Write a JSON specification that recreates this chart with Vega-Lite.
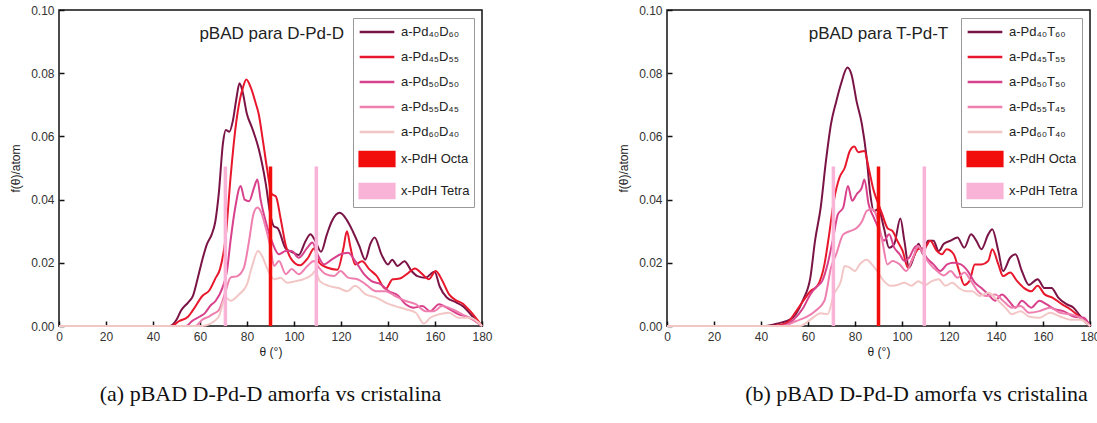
{
"$schema":"https://vega.github.io/schema/vega-lite/v6.json",
"padding":{"left":8,"top":3,"right":0,"bottom":0},
"background":"white",
"config":{"view":{"stroke":"#111","strokeWidth":1.5},
"axis":{"labelFont":"Liberation Sans","labelFontSize":12,"labelColor":"#333","titleFont":"Liberation Sans","titleFontSize":12,"titleFontWeight":"normal","titleColor":"#222","grid":false,"domain":false,"tickColor":"#111","tickWidth":1.5}},
"datasets":{
"xpdh":[{"series":"x-PdH Tetra","theta":70.8,"f":0.0505},{"series":"x-PdH Octa","theta":90,"f":0.0505},{"series":"x-PdH Tetra","theta":109.5,"f":0.0505}],
"dpd":[
{"series":"a-Pd₄₀D₆₀","theta":0,"f":0},{"series":"a-Pd₄₀D₆₀","theta":47,"f":0},{"series":"a-Pd₄₀D₆₀","theta":50,"f":0.002},{"series":"a-Pd₄₀D₆₀","theta":52,"f":0.005},{"series":"a-Pd₄₀D₆₀","theta":55,"f":0.0075},{"series":"a-Pd₄₀D₆₀","theta":57,"f":0.0095},{"series":"a-Pd₄₀D₆₀","theta":59,"f":0.015},{"series":"a-Pd₄₀D₆₀","theta":61,"f":0.021},{"series":"a-Pd₄₀D₆₀","theta":63,"f":0.026},{"series":"a-Pd₄₀D₆₀","theta":65,"f":0.029},{"series":"a-Pd₄₀D₆₀","theta":66.5,"f":0.033},{"series":"a-Pd₄₀D₆₀","theta":68,"f":0.042},{"series":"a-Pd₄₀D₆₀","theta":69.8,"f":0.058},{"series":"a-Pd₄₀D₆₀","theta":71,"f":0.062},{"series":"a-Pd₄₀D₆₀","theta":72.5,"f":0.0615},{"series":"a-Pd₄₀D₆₀","theta":74,"f":0.065},{"series":"a-Pd₄₀D₆₀","theta":75.5,"f":0.072},{"series":"a-Pd₄₀D₆₀","theta":76.8,"f":0.0768},{"series":"a-Pd₄₀D₆₀","theta":78,"f":0.0745},{"series":"a-Pd₄₀D₆₀","theta":80,"f":0.067},{"series":"a-Pd₄₀D₆₀","theta":82,"f":0.063},{"series":"a-Pd₄₀D₆₀","theta":85,"f":0.056},{"series":"a-Pd₄₀D₆₀","theta":88,"f":0.045},{"series":"a-Pd₄₀D₆₀","theta":90,"f":0.035},{"series":"a-Pd₄₀D₆₀","theta":91.5,"f":0.0315},{"series":"a-Pd₄₀D₆₀","theta":93,"f":0.031},{"series":"a-Pd₄₀D₆₀","theta":96.5,"f":0.0245},{"series":"a-Pd₄₀D₆₀","theta":99,"f":0.0235},{"series":"a-Pd₄₀D₆₀","theta":102,"f":0.0225},{"series":"a-Pd₄₀D₆₀","theta":105,"f":0.027},{"series":"a-Pd₄₀D₆₀","theta":107,"f":0.029},{"series":"a-Pd₄₀D₆₀","theta":109,"f":0.027},{"series":"a-Pd₄₀D₆₀","theta":111.5,"f":0.0235},{"series":"a-Pd₄₀D₆₀","theta":114,"f":0.029},{"series":"a-Pd₄₀D₆₀","theta":116,"f":0.033},{"series":"a-Pd₄₀D₆₀","theta":119.5,"f":0.0358},{"series":"a-Pd₄₀D₆₀","theta":122.5,"f":0.0335},{"series":"a-Pd₄₀D₆₀","theta":125,"f":0.03},{"series":"a-Pd₄₀D₆₀","theta":127.7,"f":0.0255},{"series":"a-Pd₄₀D₆₀","theta":130.3,"f":0.021},{"series":"a-Pd₄₀D₆₀","theta":132.5,"f":0.026},{"series":"a-Pd₄₀D₆₀","theta":134.3,"f":0.028},{"series":"a-Pd₄₀D₆₀","theta":137.3,"f":0.0225},{"series":"a-Pd₄₀D₆₀","theta":140,"f":0.0195},{"series":"a-Pd₄₀D₆₀","theta":141.8,"f":0.021},{"series":"a-Pd₄₀D₆₀","theta":144,"f":0.019},{"series":"a-Pd₄₀D₆₀","theta":147,"f":0.0205},{"series":"a-Pd₄₀D₆₀","theta":150,"f":0.0174},{"series":"a-Pd₄₀D₆₀","theta":152.5,"f":0.0158},{"series":"a-Pd₄₀D₆₀","theta":156,"f":0.0153},{"series":"a-Pd₄₀D₆₀","theta":159.8,"f":0.0172},{"series":"a-Pd₄₀D₆₀","theta":162,"f":0.0125},{"series":"a-Pd₄₀D₆₀","theta":165,"f":0.009},{"series":"a-Pd₄₀D₆₀","theta":169,"f":0.0075},{"series":"a-Pd₄₀D₆₀","theta":172,"f":0.0062},{"series":"a-Pd₄₀D₆₀","theta":176,"f":0.003},{"series":"a-Pd₄₀D₆₀","theta":180,"f":0},
{"series":"a-Pd₄₅D₅₅","theta":0,"f":0},{"series":"a-Pd₄₅D₅₅","theta":48,"f":0},{"series":"a-Pd₄₅D₅₅","theta":51,"f":0.0015},{"series":"a-Pd₄₅D₅₅","theta":55,"f":0.003},{"series":"a-Pd₄₅D₅₅","theta":57,"f":0.005},{"series":"a-Pd₄₅D₅₅","theta":61,"f":0.0095},{"series":"a-Pd₄₅D₅₅","theta":64,"f":0.0113},{"series":"a-Pd₄₅D₅₅","theta":66.5,"f":0.015},{"series":"a-Pd₄₅D₅₅","theta":68.5,"f":0.018},{"series":"a-Pd₄₅D₅₅","theta":70.9,"f":0.028},{"series":"a-Pd₄₅D₅₅","theta":73,"f":0.047},{"series":"a-Pd₄₅D₅₅","theta":75,"f":0.062},{"series":"a-Pd₄₅D₅₅","theta":76.8,"f":0.071},{"series":"a-Pd₄₅D₅₅","theta":78.3,"f":0.0755},{"series":"a-Pd₄₅D₅₅","theta":79.7,"f":0.078},{"series":"a-Pd₄₅D₅₅","theta":81.6,"f":0.0755},{"series":"a-Pd₄₅D₅₅","theta":83.7,"f":0.0705},{"series":"a-Pd₄₅D₅₅","theta":85,"f":0.067},{"series":"a-Pd₄₅D₅₅","theta":86.7,"f":0.059},{"series":"a-Pd₄₅D₅₅","theta":88.7,"f":0.049},{"series":"a-Pd₄₅D₅₅","theta":90.5,"f":0.0418},{"series":"a-Pd₄₅D₅₅","theta":92.3,"f":0.041},{"series":"a-Pd₄₅D₅₅","theta":94.3,"f":0.034},{"series":"a-Pd₄₅D₅₅","theta":96.5,"f":0.0255},{"series":"a-Pd₄₅D₅₅","theta":99,"f":0.021},{"series":"a-Pd₄₅D₅₅","theta":102.5,"f":0.0192},{"series":"a-Pd₄₅D₅₅","theta":106,"f":0.0216},{"series":"a-Pd₄₅D₅₅","theta":108.5,"f":0.0245},{"series":"a-Pd₄₅D₅₅","theta":110.8,"f":0.02},{"series":"a-Pd₄₅D₅₅","theta":114,"f":0.0185},{"series":"a-Pd₄₅D₅₅","theta":118.5,"f":0.0178},{"series":"a-Pd₄₅D₅₅","theta":121,"f":0.0245},{"series":"a-Pd₄₅D₅₅","theta":122.5,"f":0.03},{"series":"a-Pd₄₅D₅₅","theta":124,"f":0.025},{"series":"a-Pd₄₅D₅₅","theta":126,"f":0.0195},{"series":"a-Pd₄₅D₅₅","theta":129,"f":0.0205},{"series":"a-Pd₄₅D₅₅","theta":132,"f":0.018},{"series":"a-Pd₄₅D₅₅","theta":135,"f":0.016},{"series":"a-Pd₄₅D₅₅","theta":139,"f":0.0118},{"series":"a-Pd₄₅D₅₅","theta":142,"f":0.0148},{"series":"a-Pd₄₅D₅₅","theta":145,"f":0.015},{"series":"a-Pd₄₅D₅₅","theta":148,"f":0.0164},{"series":"a-Pd₄₅D₅₅","theta":151.5,"f":0.0182},{"series":"a-Pd₄₅D₅₅","theta":154.5,"f":0.0165},{"series":"a-Pd₄₅D₅₅","theta":157.4,"f":0.0148},{"series":"a-Pd₄₅D₅₅","theta":160.3,"f":0.0174},{"series":"a-Pd₄₅D₅₅","theta":163,"f":0.0145},{"series":"a-Pd₄₅D₅₅","theta":166,"f":0.01},{"series":"a-Pd₄₅D₅₅","theta":168.8,"f":0.0082},{"series":"a-Pd₄₅D₅₅","theta":171.6,"f":0.0072},{"series":"a-Pd₄₅D₅₅","theta":175,"f":0.0047},{"series":"a-Pd₄₅D₅₅","theta":180,"f":0},
{"series":"a-Pd₅₀D₅₀","theta":0,"f":0},{"series":"a-Pd₅₀D₅₀","theta":54,"f":0},{"series":"a-Pd₅₀D₅₀","theta":56.7,"f":0.0016},{"series":"a-Pd₅₀D₅₀","theta":60,"f":0.003},{"series":"a-Pd₅₀D₅₀","theta":62,"f":0.004},{"series":"a-Pd₅₀D₅₀","theta":64.5,"f":0.0065},{"series":"a-Pd₅₀D₅₀","theta":66.7,"f":0.008},{"series":"a-Pd₅₀D₅₀","theta":69.5,"f":0.012},{"series":"a-Pd₅₀D₅₀","theta":71.5,"f":0.0175},{"series":"a-Pd₅₀D₅₀","theta":73,"f":0.027},{"series":"a-Pd₅₀D₅₀","theta":75,"f":0.0375},{"series":"a-Pd₅₀D₅₀","theta":77.3,"f":0.0443},{"series":"a-Pd₅₀D₅₀","theta":79,"f":0.04},{"series":"a-Pd₅₀D₅₀","theta":80.9,"f":0.0395},{"series":"a-Pd₅₀D₅₀","theta":83,"f":0.0438},{"series":"a-Pd₅₀D₅₀","theta":84.4,"f":0.0464},{"series":"a-Pd₅₀D₅₀","theta":85.8,"f":0.04},{"series":"a-Pd₅₀D₅₀","theta":88,"f":0.033},{"series":"a-Pd₅₀D₅₀","theta":90.8,"f":0.0264},{"series":"a-Pd₅₀D₅₀","theta":93.6,"f":0.0227},{"series":"a-Pd₅₀D₅₀","theta":96.5,"f":0.0237},{"series":"a-Pd₅₀D₅₀","theta":99,"f":0.0237},{"series":"a-Pd₅₀D₅₀","theta":102,"f":0.0216},{"series":"a-Pd₅₀D₅₀","theta":105.7,"f":0.0248},{"series":"a-Pd₅₀D₅₀","theta":107.8,"f":0.0264},{"series":"a-Pd₅₀D₅₀","theta":110,"f":0.0227},{"series":"a-Pd₅₀D₅₀","theta":112.8,"f":0.0195},{"series":"a-Pd₅₀D₅₀","theta":116,"f":0.021},{"series":"a-Pd₅₀D₅₀","theta":119.8,"f":0.0227},{"series":"a-Pd₅₀D₅₀","theta":123,"f":0.0232},{"series":"a-Pd₅₀D₅₀","theta":126,"f":0.0206},{"series":"a-Pd₅₀D₅₀","theta":129.8,"f":0.0164},{"series":"a-Pd₅₀D₅₀","theta":133,"f":0.0142},{"series":"a-Pd₅₀D₅₀","theta":137,"f":0.0132},{"series":"a-Pd₅₀D₅₀","theta":140.4,"f":0.011},{"series":"a-Pd₅₀D₅₀","theta":144,"f":0.0098},{"series":"a-Pd₅₀D₅₀","theta":147.5,"f":0.0069},{"series":"a-Pd₅₀D₅₀","theta":151,"f":0.0058},{"series":"a-Pd₅₀D₅₀","theta":154.6,"f":0.0063},{"series":"a-Pd₅₀D₅₀","theta":158,"f":0.0047},{"series":"a-Pd₅₀D₅₀","theta":161.7,"f":0.0069},{"series":"a-Pd₅₀D₅₀","theta":165,"f":0.0058},{"series":"a-Pd₅₀D₅₀","theta":170,"f":0.0037},{"series":"a-Pd₅₀D₅₀","theta":175,"f":0.0026},{"series":"a-Pd₅₀D₅₀","theta":180,"f":0},
{"series":"a-Pd₅₅D₄₅","theta":0,"f":0},{"series":"a-Pd₅₅D₄₅","theta":58,"f":0},{"series":"a-Pd₅₅D₄₅","theta":61,"f":0.002},{"series":"a-Pd₅₅D₄₅","theta":63.8,"f":0.003},{"series":"a-Pd₅₅D₄₅","theta":66,"f":0.004},{"series":"a-Pd₅₅D₄₅","theta":68,"f":0.005},{"series":"a-Pd₅₅D₄₅","theta":70.9,"f":0.011},{"series":"a-Pd₅₅D₄₅","theta":73,"f":0.0153},{"series":"a-Pd₅₅D₄₅","theta":75.9,"f":0.0158},{"series":"a-Pd₅₅D₄₅","theta":78.7,"f":0.0185},{"series":"a-Pd₅₅D₄₅","theta":80.9,"f":0.027},{"series":"a-Pd₅₅D₄₅","theta":82.7,"f":0.0353},{"series":"a-Pd₅₅D₄₅","theta":84.4,"f":0.0375},{"series":"a-Pd₅₅D₄₅","theta":85.8,"f":0.0364},{"series":"a-Pd₅₅D₄₅","theta":88,"f":0.031},{"series":"a-Pd₅₅D₄₅","theta":90,"f":0.0248},{"series":"a-Pd₅₅D₄₅","theta":91.5,"f":0.019},{"series":"a-Pd₅₅D₄₅","theta":93.6,"f":0.0206},{"series":"a-Pd₅₅D₄₅","theta":96.5,"f":0.0164},{"series":"a-Pd₅₅D₄₅","theta":99,"f":0.018},{"series":"a-Pd₅₅D₄₅","theta":102,"f":0.0164},{"series":"a-Pd₅₅D₄₅","theta":105.7,"f":0.019},{"series":"a-Pd₅₅D₄₅","theta":108.5,"f":0.0206},{"series":"a-Pd₅₅D₄₅","theta":110.6,"f":0.0185},{"series":"a-Pd₅₅D₄₅","theta":113.5,"f":0.0164},{"series":"a-Pd₅₅D₄₅","theta":117,"f":0.0158},{"series":"a-Pd₅₅D₄₅","theta":119.8,"f":0.0174},{"series":"a-Pd₅₅D₄₅","theta":123,"f":0.0153},{"series":"a-Pd₅₅D₄₅","theta":127,"f":0.0148},{"series":"a-Pd₅₅D₄₅","theta":130.5,"f":0.0132},{"series":"a-Pd₅₅D₄₅","theta":135,"f":0.011},{"series":"a-Pd₅₅D₄₅","theta":139,"f":0.011},{"series":"a-Pd₅₅D₄₅","theta":143,"f":0.0095},{"series":"a-Pd₅₅D₄₅","theta":147.5,"f":0.0079},{"series":"a-Pd₅₅D₄₅","theta":151.8,"f":0.0069},{"series":"a-Pd₅₅D₄₅","theta":156,"f":0.0047},{"series":"a-Pd₅₅D₄₅","theta":159.6,"f":0.0047},{"series":"a-Pd₅₅D₄₅","theta":163,"f":0.0063},{"series":"a-Pd₅₅D₄₅","theta":167.4,"f":0.0053},{"series":"a-Pd₅₅D₄₅","theta":171.6,"f":0.0037},{"series":"a-Pd₅₅D₄₅","theta":176,"f":0.002},{"series":"a-Pd₅₅D₄₅","theta":180,"f":0},
{"series":"a-Pd₆₀D₄₀","theta":0,"f":0},{"series":"a-Pd₆₀D₄₀","theta":61,"f":0},{"series":"a-Pd₆₀D₄₀","theta":63.8,"f":0.0005},{"series":"a-Pd₆₀D₄₀","theta":66,"f":0.0015},{"series":"a-Pd₆₀D₄₀","theta":68,"f":0.003},{"series":"a-Pd₆₀D₄₀","theta":70.9,"f":0.009},{"series":"a-Pd₆₀D₄₀","theta":73,"f":0.008},{"series":"a-Pd₆₀D₄₀","theta":76.6,"f":0.01},{"series":"a-Pd₆₀D₄₀","theta":80,"f":0.0132},{"series":"a-Pd₆₀D₄₀","theta":82,"f":0.0185},{"series":"a-Pd₆₀D₄₀","theta":84.7,"f":0.0237},{"series":"a-Pd₆₀D₄₀","theta":86.5,"f":0.022},{"series":"a-Pd₆₀D₄₀","theta":88.7,"f":0.018},{"series":"a-Pd₆₀D₄₀","theta":91.5,"f":0.0148},{"series":"a-Pd₆₀D₄₀","theta":94.3,"f":0.0153},{"series":"a-Pd₆₀D₄₀","theta":97,"f":0.0137},{"series":"a-Pd₆₀D₄₀","theta":100.7,"f":0.0142},{"series":"a-Pd₆₀D₄₀","theta":104,"f":0.0148},{"series":"a-Pd₆₀D₄₀","theta":107.8,"f":0.0164},{"series":"a-Pd₆₀D₄₀","theta":109,"f":0.0174},{"series":"a-Pd₆₀D₄₀","theta":111,"f":0.0142},{"series":"a-Pd₆₀D₄₀","theta":114.9,"f":0.0127},{"series":"a-Pd₆₀D₄₀","theta":119,"f":0.012},{"series":"a-Pd₆₀D₄₀","theta":122.7,"f":0.011},{"series":"a-Pd₆₀D₄₀","theta":126,"f":0.0127},{"series":"a-Pd₆₀D₄₀","theta":130.5,"f":0.01},{"series":"a-Pd₆₀D₄₀","theta":135,"f":0.009},{"series":"a-Pd₆₀D₄₀","theta":139,"f":0.0074},{"series":"a-Pd₆₀D₄₀","theta":143,"f":0.0063},{"series":"a-Pd₆₀D₄₀","theta":147.5,"f":0.0053},{"series":"a-Pd₆₀D₄₀","theta":151.8,"f":0.0042},{"series":"a-Pd₆₀D₄₀","theta":155.3,"f":0.0008},{"series":"a-Pd₆₀D₄₀","theta":158,"f":0.0026},{"series":"a-Pd₆₀D₄₀","theta":161.7,"f":0.0037},{"series":"a-Pd₆₀D₄₀","theta":166,"f":0.0042},{"series":"a-Pd₆₀D₄₀","theta":170,"f":0.0026},{"series":"a-Pd₆₀D₄₀","theta":175,"f":0.0026},{"series":"a-Pd₆₀D₄₀","theta":180,"f":0}
],
"tpt":[
{"series":"a-Pd₄₀T₆₀","theta":0,"f":0},{"series":"a-Pd₄₀T₆₀","theta":42,"f":0},{"series":"a-Pd₄₀T₆₀","theta":48,"f":0.001},{"series":"a-Pd₄₀T₆₀","theta":52.3,"f":0.002},{"series":"a-Pd₄₀T₆₀","theta":55,"f":0.004},{"series":"a-Pd₄₀T₆₀","theta":58,"f":0.0084},{"series":"a-Pd₄₀T₆₀","theta":61,"f":0.0153},{"series":"a-Pd₄₀T₆₀","theta":63,"f":0.027},{"series":"a-Pd₄₀T₆₀","theta":65.4,"f":0.0375},{"series":"a-Pd₄₀T₆₀","theta":67.6,"f":0.052},{"series":"a-Pd₄₀T₆₀","theta":69.8,"f":0.064},{"series":"a-Pd₄₀T₆₀","theta":72,"f":0.071},{"series":"a-Pd₄₀T₆₀","theta":74,"f":0.0765},{"series":"a-Pd₄₀T₆₀","theta":76.8,"f":0.0818},{"series":"a-Pd₄₀T₆₀","theta":78.5,"f":0.0796},{"series":"a-Pd₄₀T₆₀","theta":80.7,"f":0.071},{"series":"a-Pd₄₀T₆₀","theta":82.9,"f":0.064},{"series":"a-Pd₄₀T₆₀","theta":85,"f":0.053},{"series":"a-Pd₄₀T₆₀","theta":86.5,"f":0.0417},{"series":"a-Pd₄₀T₆₀","theta":88,"f":0.0364},{"series":"a-Pd₄₀T₆₀","theta":90,"f":0.037},{"series":"a-Pd₄₀T₆₀","theta":92.3,"f":0.031},{"series":"a-Pd₄₀T₆₀","theta":94.5,"f":0.0248},{"series":"a-Pd₄₀T₆₀","theta":96.7,"f":0.026},{"series":"a-Pd₄₀T₆₀","theta":99.3,"f":0.034},{"series":"a-Pd₄₀T₆₀","theta":101,"f":0.027},{"series":"a-Pd₄₀T₆₀","theta":103,"f":0.0185},{"series":"a-Pd₄₀T₆₀","theta":105.4,"f":0.0227},{"series":"a-Pd₄₀T₆₀","theta":107,"f":0.026},{"series":"a-Pd₄₀T₆₀","theta":109,"f":0.0227},{"series":"a-Pd₄₀T₆₀","theta":111,"f":0.027},{"series":"a-Pd₄₀T₆₀","theta":113.4,"f":0.027},{"series":"a-Pd₄₀T₆₀","theta":115.6,"f":0.0237},{"series":"a-Pd₄₀T₆₀","theta":117.8,"f":0.026},{"series":"a-Pd₄₀T₆₀","theta":120.7,"f":0.027},{"series":"a-Pd₄₀T₆₀","theta":123.6,"f":0.028},{"series":"a-Pd₄₀T₆₀","theta":126.5,"f":0.0248},{"series":"a-Pd₄₀T₆₀","theta":129.4,"f":0.029},{"series":"a-Pd₄₀T₆₀","theta":131.6,"f":0.027},{"series":"a-Pd₄₀T₆₀","theta":133.8,"f":0.0243},{"series":"a-Pd₄₀T₆₀","theta":136.7,"f":0.029},{"series":"a-Pd₄₀T₆₀","theta":138.4,"f":0.0306},{"series":"a-Pd₄₀T₆₀","theta":141,"f":0.0237},{"series":"a-Pd₄₀T₆₀","theta":143,"f":0.0174},{"series":"a-Pd₄₀T₆₀","theta":146,"f":0.0216},{"series":"a-Pd₄₀T₆₀","theta":148.3,"f":0.0227},{"series":"a-Pd₄₀T₆₀","theta":151,"f":0.0174},{"series":"a-Pd₄₀T₆₀","theta":154,"f":0.013},{"series":"a-Pd₄₀T₆₀","theta":157.7,"f":0.0148},{"series":"a-Pd₄₀T₆₀","theta":160.7,"f":0.012},{"series":"a-Pd₄₀T₆₀","theta":163.6,"f":0.012},{"series":"a-Pd₄₀T₆₀","theta":166.5,"f":0.009},{"series":"a-Pd₄₀T₆₀","theta":170,"f":0.0069},{"series":"a-Pd₄₀T₆₀","theta":173,"f":0.0058},{"series":"a-Pd₄₀T₆₀","theta":176,"f":0.003},{"series":"a-Pd₄₀T₆₀","theta":180,"f":0},
{"series":"a-Pd₄₅T₅₅","theta":0,"f":0},{"series":"a-Pd₄₅T₅₅","theta":45,"f":0},{"series":"a-Pd₄₅T₅₅","theta":51,"f":0.001},{"series":"a-Pd₄₅T₅₅","theta":55,"f":0.0047},{"series":"a-Pd₄₅T₅₅","theta":58,"f":0.008},{"series":"a-Pd₄₅T₅₅","theta":61,"f":0.011},{"series":"a-Pd₄₅T₅₅","theta":64,"f":0.0127},{"series":"a-Pd₄₅T₅₅","theta":67,"f":0.0195},{"series":"a-Pd₄₅T₅₅","theta":69,"f":0.029},{"series":"a-Pd₄₅T₅₅","theta":71,"f":0.0396},{"series":"a-Pd₄₅T₅₅","theta":73.4,"f":0.047},{"series":"a-Pd₄₅T₅₅","theta":75.6,"f":0.05},{"series":"a-Pd₄₅T₅₅","theta":77.8,"f":0.0554},{"series":"a-Pd₄₅T₅₅","theta":79.7,"f":0.0568},{"series":"a-Pd₄₅T₅₅","theta":81.4,"f":0.055},{"series":"a-Pd₄₅T₅₅","theta":84,"f":0.0554},{"series":"a-Pd₄₅T₅₅","theta":85.8,"f":0.05},{"series":"a-Pd₄₅T₅₅","theta":88,"f":0.0427},{"series":"a-Pd₄₅T₅₅","theta":90,"f":0.0385},{"series":"a-Pd₄₅T₅₅","theta":91.6,"f":0.0353},{"series":"a-Pd₄₅T₅₅","theta":93.8,"f":0.031},{"series":"a-Pd₄₅T₅₅","theta":96,"f":0.03},{"series":"a-Pd₄₅T₅₅","theta":98,"f":0.027},{"series":"a-Pd₄₅T₅₅","theta":100.3,"f":0.0237},{"series":"a-Pd₄₅T₅₅","theta":102.5,"f":0.0185},{"series":"a-Pd₄₅T₅₅","theta":104.7,"f":0.0216},{"series":"a-Pd₄₅T₅₅","theta":106.9,"f":0.0243},{"series":"a-Pd₄₅T₅₅","theta":109.8,"f":0.0248},{"series":"a-Pd₄₅T₅₅","theta":112,"f":0.027},{"series":"a-Pd₄₅T₅₅","theta":114.9,"f":0.0237},{"series":"a-Pd₄₅T₅₅","theta":117,"f":0.0227},{"series":"a-Pd₄₅T₅₅","theta":119,"f":0.0243},{"series":"a-Pd₄₅T₅₅","theta":122,"f":0.0227},{"series":"a-Pd₄₅T₅₅","theta":124.3,"f":0.0174},{"series":"a-Pd₄₅T₅₅","theta":126.5,"f":0.013},{"series":"a-Pd₄₅T₅₅","theta":128.7,"f":0.0142},{"series":"a-Pd₄₅T₅₅","theta":131,"f":0.0195},{"series":"a-Pd₄₅T₅₅","theta":133.8,"f":0.0195},{"series":"a-Pd₄₅T₅₅","theta":136.7,"f":0.0206},{"series":"a-Pd₄₅T₅₅","theta":138.4,"f":0.0243},{"series":"a-Pd₄₅T₅₅","theta":141,"f":0.0195},{"series":"a-Pd₄₅T₅₅","theta":143,"f":0.0158},{"series":"a-Pd₄₅T₅₅","theta":146,"f":0.0169},{"series":"a-Pd₄₅T₅₅","theta":149,"f":0.0142},{"series":"a-Pd₄₅T₅₅","theta":152,"f":0.012},{"series":"a-Pd₄₅T₅₅","theta":155,"f":0.011},{"series":"a-Pd₄₅T₅₅","theta":157.7,"f":0.0127},{"series":"a-Pd₄₅T₅₅","theta":160.7,"f":0.01},{"series":"a-Pd₄₅T₅₅","theta":164,"f":0.009},{"series":"a-Pd₄₅T₅₅","theta":168,"f":0.0069},{"series":"a-Pd₄₅T₅₅","theta":171.6,"f":0.0053},{"series":"a-Pd₄₅T₅₅","theta":176,"f":0.0026},{"series":"a-Pd₄₅T₅₅","theta":180,"f":0},
{"series":"a-Pd₅₀T₅₀","theta":0,"f":0},{"series":"a-Pd₅₀T₅₀","theta":48,"f":0},{"series":"a-Pd₅₀T₅₀","theta":53.8,"f":0.002},{"series":"a-Pd₅₀T₅₀","theta":58,"f":0.0058},{"series":"a-Pd₅₀T₅₀","theta":61,"f":0.01},{"series":"a-Pd₅₀T₅₀","theta":63,"f":0.012},{"series":"a-Pd₅₀T₅₀","theta":66,"f":0.0142},{"series":"a-Pd₅₀T₅₀","theta":68.3,"f":0.0195},{"series":"a-Pd₅₀T₅₀","theta":70.5,"f":0.027},{"series":"a-Pd₅₀T₅₀","theta":72.7,"f":0.0353},{"series":"a-Pd₅₀T₅₀","theta":75,"f":0.0375},{"series":"a-Pd₅₀T₅₀","theta":77,"f":0.0443},{"series":"a-Pd₅₀T₅₀","theta":78.8,"f":0.0396},{"series":"a-Pd₅₀T₅₀","theta":80.7,"f":0.0417},{"series":"a-Pd₅₀T₅₀","theta":82.9,"f":0.0438},{"series":"a-Pd₅₀T₅₀","theta":84,"f":0.0464},{"series":"a-Pd₅₀T₅₀","theta":85.8,"f":0.0385},{"series":"a-Pd₅₀T₅₀","theta":88,"f":0.0343},{"series":"a-Pd₅₀T₅₀","theta":90,"f":0.031},{"series":"a-Pd₅₀T₅₀","theta":92.3,"f":0.027},{"series":"a-Pd₅₀T₅₀","theta":94.5,"f":0.029},{"series":"a-Pd₅₀T₅₀","theta":96.7,"f":0.0248},{"series":"a-Pd₅₀T₅₀","theta":99,"f":0.0227},{"series":"a-Pd₅₀T₅₀","theta":101,"f":0.0206},{"series":"a-Pd₅₀T₅₀","theta":103,"f":0.0216},{"series":"a-Pd₅₀T₅₀","theta":106,"f":0.0253},{"series":"a-Pd₅₀T₅₀","theta":108.3,"f":0.0243},{"series":"a-Pd₅₀T₅₀","theta":110.5,"f":0.0216},{"series":"a-Pd₅₀T₅₀","theta":113.4,"f":0.0195},{"series":"a-Pd₅₀T₅₀","theta":116.3,"f":0.0174},{"series":"a-Pd₅₀T₅₀","theta":119.2,"f":0.0195},{"series":"a-Pd₅₀T₅₀","theta":122,"f":0.02},{"series":"a-Pd₅₀T₅₀","theta":125,"f":0.0195},{"series":"a-Pd₅₀T₅₀","theta":128,"f":0.0174},{"series":"a-Pd₅₀T₅₀","theta":131,"f":0.0137},{"series":"a-Pd₅₀T₅₀","theta":133.8,"f":0.012},{"series":"a-Pd₅₀T₅₀","theta":136.7,"f":0.01},{"series":"a-Pd₅₀T₅₀","theta":139.6,"f":0.008},{"series":"a-Pd₅₀T₅₀","theta":142.5,"f":0.01},{"series":"a-Pd₅₀T₅₀","theta":145.4,"f":0.008},{"series":"a-Pd₅₀T₅₀","theta":148.3,"f":0.0058},{"series":"a-Pd₅₀T₅₀","theta":151,"f":0.008},{"series":"a-Pd₅₀T₅₀","theta":155,"f":0.0058},{"series":"a-Pd₅₀T₅₀","theta":158.5,"f":0.008},{"series":"a-Pd₅₀T₅₀","theta":161.4,"f":0.0069},{"series":"a-Pd₅₀T₅₀","theta":165,"f":0.0053},{"series":"a-Pd₅₀T₅₀","theta":168.7,"f":0.0047},{"series":"a-Pd₅₀T₅₀","theta":173,"f":0.003},{"series":"a-Pd₅₀T₅₀","theta":177.4,"f":0.0026},{"series":"a-Pd₅₀T₅₀","theta":180,"f":0},
{"series":"a-Pd₅₅T₄₅","theta":0,"f":0},{"series":"a-Pd₅₅T₄₅","theta":49,"f":0},{"series":"a-Pd₅₅T₄₅","theta":55,"f":0.0016},{"series":"a-Pd₅₅T₄₅","theta":59.6,"f":0.003},{"series":"a-Pd₅₅T₄₅","theta":63,"f":0.0047},{"series":"a-Pd₅₅T₄₅","theta":67,"f":0.008},{"series":"a-Pd₅₅T₄₅","theta":69.8,"f":0.0185},{"series":"a-Pd₅₅T₄₅","theta":72,"f":0.0227},{"series":"a-Pd₅₅T₄₅","theta":75,"f":0.029},{"series":"a-Pd₅₅T₄₅","theta":77.8,"f":0.03},{"series":"a-Pd₅₅T₄₅","theta":80.7,"f":0.031},{"series":"a-Pd₅₅T₄₅","theta":82.9,"f":0.033},{"series":"a-Pd₅₅T₄₅","theta":85,"f":0.0364},{"series":"a-Pd₅₅T₄₅","theta":87.2,"f":0.037},{"series":"a-Pd₅₅T₄₅","theta":89.4,"f":0.0343},{"series":"a-Pd₅₅T₄₅","theta":91.6,"f":0.027},{"series":"a-Pd₅₅T₄₅","theta":93.8,"f":0.0195},{"series":"a-Pd₅₅T₄₅","theta":96,"f":0.0206},{"series":"a-Pd₅₅T₄₅","theta":99,"f":0.0195},{"series":"a-Pd₅₅T₄₅","theta":101.8,"f":0.0174},{"series":"a-Pd₅₅T₄₅","theta":104.7,"f":0.0216},{"series":"a-Pd₅₅T₄₅","theta":106.9,"f":0.0253},{"series":"a-Pd₅₅T₄₅","theta":109,"f":0.0227},{"series":"a-Pd₅₅T₄₅","theta":112,"f":0.0195},{"series":"a-Pd₅₅T₄₅","theta":114.9,"f":0.0174},{"series":"a-Pd₅₅T₄₅","theta":117.8,"f":0.016},{"series":"a-Pd₅₅T₄₅","theta":120.7,"f":0.0174},{"series":"a-Pd₅₅T₄₅","theta":123.6,"f":0.0153},{"series":"a-Pd₅₅T₄₅","theta":126.5,"f":0.0169},{"series":"a-Pd₅₅T₄₅","theta":129.4,"f":0.0142},{"series":"a-Pd₅₅T₄₅","theta":132.3,"f":0.011},{"series":"a-Pd₅₅T₄₅","theta":136,"f":0.0095},{"series":"a-Pd₅₅T₄₅","theta":139.6,"f":0.01},{"series":"a-Pd₅₅T₄₅","theta":143,"f":0.008},{"series":"a-Pd₅₅T₄₅","theta":146.8,"f":0.0058},{"series":"a-Pd₅₅T₄₅","theta":150.5,"f":0.0063},{"series":"a-Pd₅₅T₄₅","theta":154,"f":0.0042},{"series":"a-Pd₅₅T₄₅","theta":158.5,"f":0.0047},{"series":"a-Pd₅₅T₄₅","theta":163,"f":0.0058},{"series":"a-Pd₅₅T₄₅","theta":167.3,"f":0.0042},{"series":"a-Pd₅₅T₄₅","theta":171.6,"f":0.0037},{"series":"a-Pd₅₅T₄₅","theta":176,"f":0.0026},{"series":"a-Pd₅₅T₄₅","theta":180,"f":0},
{"series":"a-Pd₆₀T₄₀","theta":0,"f":0},{"series":"a-Pd₆₀T₄₀","theta":56.7,"f":0},{"series":"a-Pd₆₀T₄₀","theta":61,"f":0.002},{"series":"a-Pd₆₀T₄₀","theta":65.4,"f":0.004},{"series":"a-Pd₆₀T₄₀","theta":68.3,"f":0.0037},{"series":"a-Pd₆₀T₄₀","theta":71,"f":0.01},{"series":"a-Pd₆₀T₄₀","theta":74,"f":0.0142},{"series":"a-Pd₆₀T₄₀","theta":75.6,"f":0.019},{"series":"a-Pd₆₀T₄₀","theta":77.8,"f":0.0185},{"series":"a-Pd₆₀T₄₀","theta":80,"f":0.0174},{"series":"a-Pd₆₀T₄₀","theta":82,"f":0.0195},{"series":"a-Pd₆₀T₄₀","theta":85,"f":0.021},{"series":"a-Pd₆₀T₄₀","theta":87.2,"f":0.0195},{"series":"a-Pd₆₀T₄₀","theta":89.4,"f":0.0174},{"series":"a-Pd₆₀T₄₀","theta":92.3,"f":0.0142},{"series":"a-Pd₆₀T₄₀","theta":95.2,"f":0.0127},{"series":"a-Pd₆₀T₄₀","theta":98,"f":0.013},{"series":"a-Pd₆₀T₄₀","theta":101,"f":0.0137},{"series":"a-Pd₆₀T₄₀","theta":104,"f":0.0127},{"series":"a-Pd₆₀T₄₀","theta":106.9,"f":0.0142},{"series":"a-Pd₆₀T₄₀","theta":109.8,"f":0.013},{"series":"a-Pd₆₀T₄₀","theta":112.7,"f":0.0142},{"series":"a-Pd₆₀T₄₀","theta":115.6,"f":0.0148},{"series":"a-Pd₆₀T₄₀","theta":118.5,"f":0.0127},{"series":"a-Pd₆₀T₄₀","theta":121.4,"f":0.0137},{"series":"a-Pd₆₀T₄₀","theta":124.3,"f":0.012},{"series":"a-Pd₆₀T₄₀","theta":127.2,"f":0.011},{"series":"a-Pd₆₀T₄₀","theta":130,"f":0.011},{"series":"a-Pd₆₀T₄₀","theta":133,"f":0.0095},{"series":"a-Pd₆₀T₄₀","theta":136.7,"f":0.0105},{"series":"a-Pd₆₀T₄₀","theta":140.3,"f":0.0084},{"series":"a-Pd₆₀T₄₀","theta":144,"f":0.0058},{"series":"a-Pd₆₀T₄₀","theta":146.8,"f":0.0037},{"series":"a-Pd₆₀T₄₀","theta":150.5,"f":0.0047},{"series":"a-Pd₆₀T₄₀","theta":154,"f":0.003},{"series":"a-Pd₆₀T₄₀","theta":158.5,"f":0.0026},{"series":"a-Pd₆₀T₄₀","theta":163,"f":0.0042},{"series":"a-Pd₆₀T₄₀","theta":167.3,"f":0.003},{"series":"a-Pd₆₀T₄₀","theta":171.6,"f":0.002},{"series":"a-Pd₆₀T₄₀","theta":176,"f":0.002},{"series":"a-Pd₆₀T₄₀","theta":180,"f":0}
]},
"resolve":{"scale":{"color":"independent"},"legend":{"color":"independent"}},
"spacing":123,
"hconcat":[
{"width":423,"height":316,
"title":{"text":"(a) pBAD D-Pd-D amorfa vs cristalina","orient":"bottom","anchor":"middle","font":"Liberation Serif","fontSize":22,"fontWeight":"normal","color":"#111","offset":27},
"layer":[
{"data":{"name":"dpd"},"mark":{"type":"line","strokeWidth":2,"interpolate":"monotone"},
"encoding":{
"x":{"field":"theta","type":"quantitative","scale":{"domain":[0,180],"nice":false,"zero":false},"axis":{"title":"θ (°)","values":[0,10,20,30,40,50,60,70,80,90,100,110,120,130,140,150,160,170,180],"labelExpr":"datum.value % 20 === 0 ? datum.label : ''","labelFlush":false,"tickSize":-5,"labelPadding":10,"titlePadding":4}},
"y":{"field":"f","type":"quantitative","scale":{"domain":[0,0.1],"nice":false},"axis":{"title":"f(θ)/atom","values":[0,0.01,0.02,0.03,0.04,0.05,0.06,0.07,0.08,0.09,0.1],"labelExpr":"round(datum.value*100) % 2 === 0 ? format(datum.value, '.2f') : ''","tickSize":-5,"labelPadding":10,"titlePadding":8}},
"color":{"field":"series","type":"nominal","scale":{"domain":["a-Pd₄₀D₆₀","a-Pd₄₅D₅₅","a-Pd₅₀D₅₀","a-Pd₅₅D₄₅","a-Pd₆₀D₄₀","x-PdH Octa","x-PdH Tetra"],"range":["#7B1446","#E8172C","#D8418C","#EE7FAF","#F3C6C6","#F20D0D","#F8B3D6"]},
"legend":{"title":null,"orient":"top-right","offset":8,"padding":4,"strokeColor":"#999","fillColor":"#fff","symbolSize":300,"symbolStrokeWidth":2.5,"labelFont":"Liberation Sans","labelFontSize":13,"labelColor":"#222","labelOffset":24,"rowPadding":8,"labelLimit":200,
"encode":{"symbols":{"update":{"shape":{"signal":"indexof(datum.value,'x-PdH') === 0 ? 'M-2,-0.8H2V0.8H-2Z' : 'M-2,0H2'"},"fill":{"signal":"datum.value === 'x-PdH Octa' ? '#F20D0D' : datum.value === 'x-PdH Tetra' ? '#F8B3D6' : 'transparent'"},"x":{"value":20}}}}}}
}},
{"data":{"name":"xpdh"},"mark":{"type":"rule","strokeWidth":3.5},
"encoding":{
"x":{"field":"theta","type":"quantitative"},
"y":{"field":"f","type":"quantitative"},
"y2":{"datum":0},
"color":{"field":"series","type":"nominal"}}},
{"data":{"values":[{"label":"pBAD para D-Pd-D","tx":90.5,"ty":0.0925}]},"mark":{"type":"text","font":"Liberation Sans","fontSize":17,"color":"#222"},
"encoding":{"x":{"field":"tx","type":"quantitative"},"y":{"field":"ty","type":"quantitative"},"text":{"field":"label","type":"nominal"}}}
]},
{"width":423,"height":316,
"title":{"text":"(b) pBAD D-Pd-D amorfa vs cristalina","orient":"bottom","anchor":"middle","font":"Liberation Serif","fontSize":22,"fontWeight":"normal","color":"#111","offset":27,"dx":38},
"layer":[
{"data":{"name":"tpt"},"mark":{"type":"line","strokeWidth":2,"interpolate":"monotone"},
"encoding":{
"x":{"field":"theta","type":"quantitative","scale":{"domain":[0,180],"nice":false,"zero":false},"axis":{"title":"θ (°)","values":[0,10,20,30,40,50,60,70,80,90,100,110,120,130,140,150,160,170,180],"labelExpr":"datum.value % 20 === 0 ? datum.label : ''","labelFlush":false,"tickSize":-5,"labelPadding":10,"titlePadding":4}},
"y":{"field":"f","type":"quantitative","scale":{"domain":[0,0.1],"nice":false},"axis":{"title":"f(θ)/atom","values":[0,0.01,0.02,0.03,0.04,0.05,0.06,0.07,0.08,0.09,0.1],"labelExpr":"round(datum.value*100) % 2 === 0 ? format(datum.value, '.2f') : ''","tickSize":-5,"labelPadding":10,"titlePadding":8}},
"color":{"field":"series","type":"nominal","scale":{"domain":["a-Pd₄₀T₆₀","a-Pd₄₅T₅₅","a-Pd₅₀T₅₀","a-Pd₅₅T₄₅","a-Pd₆₀T₄₀","x-PdH Octa","x-PdH Tetra"],"range":["#7B1446","#E8172C","#D8418C","#EE7FAF","#F3C6C6","#F20D0D","#F8B3D6"]},
"legend":{"title":null,"orient":"top-right","offset":8,"padding":4,"strokeColor":"#999","fillColor":"#fff","symbolSize":300,"symbolStrokeWidth":2.5,"labelFont":"Liberation Sans","labelFontSize":13,"labelColor":"#222","labelOffset":24,"rowPadding":8,"labelLimit":200,
"encode":{"symbols":{"update":{"shape":{"signal":"indexof(datum.value,'x-PdH') === 0 ? 'M-2,-0.8H2V0.8H-2Z' : 'M-2,0H2'"},"fill":{"signal":"datum.value === 'x-PdH Octa' ? '#F20D0D' : datum.value === 'x-PdH Tetra' ? '#F8B3D6' : 'transparent'"},"x":{"value":20}}}}}}
}},
{"data":{"name":"xpdh"},"mark":{"type":"rule","strokeWidth":3.5},
"encoding":{
"x":{"field":"theta","type":"quantitative"},
"y":{"field":"f","type":"quantitative"},
"y2":{"datum":0},
"color":{"field":"series","type":"nominal"}}},
{"data":{"values":[{"label":"pBAD para T-Pd-T","tx":90,"ty":0.0925}]},"mark":{"type":"text","font":"Liberation Sans","fontSize":17,"color":"#222"},
"encoding":{"x":{"field":"tx","type":"quantitative"},"y":{"field":"ty","type":"quantitative"},"text":{"field":"label","type":"nominal"}}}
]}
]
}
